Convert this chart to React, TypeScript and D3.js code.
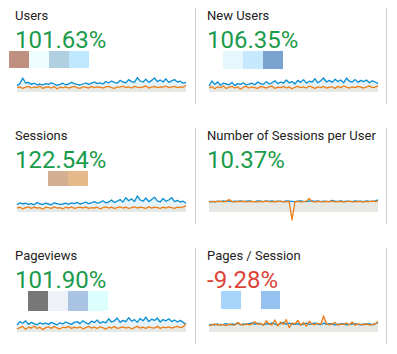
import React from "react";
import * as d3 from "d3";

// metric labels and their change vs previous period
const titles = ["Users", "New Users", "Sessions", "Number of Sessions per User", "Pageviews", "Pages / Session"];
const changes = ["101.63%", "106.35%", "122.54%", "10.37%", "101.90%", "-9.28%"];

// sparkline series (current = blue, previous = orange), relative units 0-100
const usersCur = [32, 42, 70, 45, 48, 38, 44, 36, 40, 35, 42, 38, 46, 40, 33, 38, 44, 36, 40, 48, 42, 38, 35, 40, 45, 38, 44, 50, 42, 46, 40, 52, 45, 55, 48, 44, 58, 50, 46, 62, 52, 48, 72, 55, 50, 64, 48, 58, 70, 52, 60, 50, 66, 48, 56, 62, 50, 54, 44, 48];
const usersPrev = [22, 26, 18, 24, 28, 20, 25, 22, 30, 18, 24, 26, 20, 28, 16, 24, 22, 26, 20, 24, 28, 22, 18, 26, 24, 20, 28, 22, 26, 24, 20, 26, 28, 22, 18, 26, 24, 30, 22, 26, 20, 28, 24, 22, 26, 30, 20, 24, 28, 22, 26, 24, 30, 22, 26, 28, 22, 26, 24, 34];
const newUsersCur = [30, 55, 38, 50, 34, 44, 40, 36, 48, 32, 42, 38, 46, 35, 40, 44, 36, 50, 42, 38, 52, 40, 46, 56, 42, 50, 44, 60, 46, 52, 40, 58, 48, 62, 44, 54, 50, 66, 46, 56, 70, 50, 58, 48, 64, 52, 60, 46, 70, 54, 50, 62, 48, 58, 52, 60, 46, 56, 50, 42];
const newUsersPrev = [20, 28, 16, 26, 22, 30, 18, 24, 28, 20, 26, 14, 24, 28, 20, 26, 22, 18, 28, 24, 20, 26, 30, 18, 24, 22, 28, 20, 26, 16, 24, 28, 22, 26, 20, 30, 24, 18, 26, 22, 28, 20, 24, 26, 18, 28, 22, 30, 24, 20, 26, 22, 28, 24, 20, 26, 30, 22, 24, 32];
const sessionsCur = [36, 46, 40, 44, 38, 42, 36, 48, 40, 38, 44, 40, 36, 46, 42, 38, 40, 44, 38, 46, 42, 48, 40, 44, 50, 42, 46, 52, 44, 48, 56, 46, 50, 60, 48, 54, 62, 50, 72, 56, 66, 52, 80, 60, 54, 70, 52, 62, 74, 56, 50, 68, 54, 60, 72, 52, 58, 50, 54, 44];
const sessionsPrev = [20, 24, 16, 22, 26, 18, 24, 20, 22, 14, 24, 22, 18, 26, 20, 22, 16, 24, 20, 26, 18, 22, 24, 20, 26, 18, 22, 20, 24, 16, 22, 26, 20, 24, 18, 22, 26, 20, 24, 18, 22, 26, 20, 24, 22, 18, 26, 20, 24, 22, 18, 24, 20, 26, 22, 18, 24, 22, 26, 30];
const perUserCur = [52, 53, 51, 54, 52, 55, 53, 56, 52, 54, 53, 55, 52, 54, 56, 53, 52, 55, 54, 52, 56, 53, 55, 52, 54, 53, 52, 55, 54, 53, 52, 54, 56, 53, 52, 54, 55, 53, 56, 52, 54, 53, 52, 58, 54, 53, 55, 52, 54, 53, 52, 55, 53, 54, 52, 55, 53, 54, 56, 60];
const perUserPrev = [51, 52, 53, 52, 54, 51, 53, 62, 52, 51, 53, 52, 54, 51, 52, 53, 52, 51, 53, 52, 54, 52, 51, 53, 52, 54, 51, 52, 53, -40, 52, 53, 51, 52, 54, 68, 52, 51, 53, 52, 51, 53, 52, 54, 51, 52, 53, 51, 52, 54, 52, 51, 53, 52, 51, 53, 52, 54, 52, 56];
const pageviewsCur = [34, 52, 44, 56, 38, 48, 42, 36, 46, 40, 44, 38, 48, 42, 36, 46, 40, 50, 44, 38, 48, 52, 42, 56, 46, 40, 54, 48, 60, 44, 52, 46, 66, 50, 56, 70, 48, 58, 52, 72, 54, 62, 48, 68, 56, 74, 52, 64, 58, 70, 50, 62, 56, 66, 52, 60, 50, 58, 48, 40];
const pageviewsPrev = [16, 22, 28, 14, 24, 20, 30, 18, 24, 12, 22, 26, 18, 28, 20, 16, 24, 22, 28, 18, 24, 20, 26, 16, 22, 28, 20, 24, 18, 26, 22, 14, 24, 20, 28, 18, 22, 26, 20, 24, 16, 22, 28, 20, 24, 18, 26, 22, 20, 28, 18, 24, 22, 26, 20, 24, 28, 22, 26, 42];
const pagesCur = [34, 38, 36, 40, 35, 38, 42, 36, 40, 38, 44, 36, 40, 38, 42, 46, 38, 44, 40, 36, 42, 38, 46, 40, 36, 42, 48, 38, 44, 40, 38, 42, 36, 40, 44, 38, 42, 46, 40, 36, 44, 38, 42, 40, 36, 38, 42, 40, 36, 38, 40, 42, 38, 36, 40, 38, 42, 36, 40, 48];
const pagesPrev = [32, 36, 40, 34, 38, 36, 32, 40, 36, 34, 48, 38, 34, 42, 36, 40, 52, 38, 44, 34, 56, 40, 36, 60, 30, 50, 38, 62, 22, 46, 40, 58, 34, 48, 30, 54, 40, 36, 44, 38, 80, 42, 36, 40, 48, 34, 40, 38, 44, 36, 50, 34, 40, 38, 36, 42, 34, 38, 40, 52];

const currentSeries = [usersCur, newUsersCur, sessionsCur, perUserCur, pageviewsCur, pagesCur];
const previousSeries = [usersPrev, newUsersPrev, sessionsPrev, perUserPrev, pageviewsPrev, pagesPrev];

// masked blocks shown under the numbers: [panel, x offset, width, height, colour]
const maskBlocks: [number, number, number, number, string][] = [
  [0, -6, 20, 17, "#bf9080"], [0, 14, 20, 17, "#eefeff"], [0, 34, 20, 17, "#b0cfe0"], [0, 54, 20, 17, "#bde8fd"],
  [1, 16, 20, 18, "#e6f8ff"], [1, 36, 20, 18, "#c6e8fc"], [1, 56, 20, 18, "#7aa3cf"],
  [2, 33, 20, 15, "#d4b093"], [2, 53, 20, 15, "#e6b98a"],
  [4, 13, 20, 20, "#777777"], [4, 33, 20, 20, "#eef2f8"], [4, 53, 20, 20, "#a8c4e2"], [4, 73, 20, 20, "#dcfffe"],
  [5, 14, 20, 18, "#a6d4fb"], [5, 54, 19, 18, "#94c1ef"],
];

const BLUE = "#0b8ed0";
const ORANGE = "#ed7e17";

export default function App() {
  const W = 397;
  const H = 354;
  const colX = [15, 207];
  const rowH = 120;

  return (
    <svg width={W} height={H} style={{ position: "absolute", left: 0, top: 0, background: "#fff" }}
      fontFamily="Roboto, sans-serif">
      {titles.map((title, i) => {
        const col = i % 2;
        const row = Math.floor(i / 2);
        const x0 = colX[col];
        const top = row * rowH;
        const cur = currentSeries[i];
        const prev = previousSeries[i];

        const x = d3.scaleLinear().domain([0, cur.length - 1]).range([x0 + 2, x0 + 171]);
        const y = d3.scaleLinear().domain([0, 100]).range([top + 92, top + 72]);
        const area = d3.area<number>().x((_, j) => x(j)).y0(y(0)).y1((d) => y(Math.max(d, 0)));
        const line = d3.line<number>().x((_, j) => x(j)).y((d) => y(d));
        const negative = changes[i].startsWith("-");

        return (
          <g key={title}>
            <text x={x0} y={top + 19.5} fontSize={13} fill="#222">{title}</text>
            <text x={x0} y={top + 47.5} fontSize={24} fill={negative ? "#db4437" : "#1a9b4b"}>{changes[i]}</text>
            {maskBlocks.filter((b) => b[0] === i).map((b, k) => (
              <rect key={k} x={x0 + b[1]} y={top + 51} width={b[2]} height={b[3]} fill={b[4]} />
            ))}
            <path d={area(cur) ?? ""} fill="#e4f2f9" />
            <path d={area(prev) ?? ""} fill="#e6e8e3" />
            <path d={line(cur) ?? ""} fill="none" stroke={BLUE} strokeWidth={1.3} strokeLinejoin="round" />
            <path d={line(prev) ?? ""} fill="none" stroke={ORANGE} strokeWidth={1.3} strokeLinejoin="round" />
            <line x1={col === 0 ? 195.5 : 386.5} x2={col === 0 ? 195.5 : 386.5} y1={top + 8} y2={top + 104}
              stroke="#cccccc" strokeWidth={1} />
          </g>
        );
      })}
    </svg>
  );
}
